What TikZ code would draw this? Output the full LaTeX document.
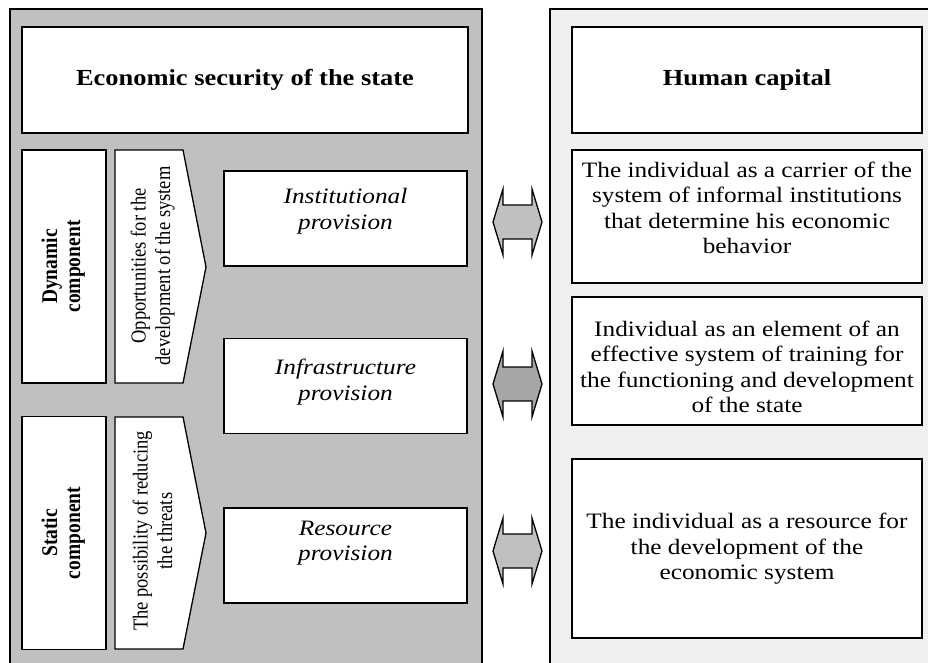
\documentclass[tikz,border=0pt]{standalone}
\usepackage{fontspec}
\usepackage{graphicx}
\setmainfont[FakeStretch=1.15]{Liberation Serif}
\newfontfamily\upfont{Liberation Serif}

\definecolor{panelgray}{HTML}{C0C0C0}
\definecolor{panellight}{HTML}{F0F0F0}
\definecolor{arrowdark}{HTML}{A6A6A6}

\newcommand{\textsize}{\fontsize{22}{25.5}\selectfont}
\newcommand{\tallrot}[1]{\scalebox{1}[1.15]{\begin{tabular}{@{}c@{}}#1\end{tabular}}}
\newcommand{\linkarrow}[2]{%
  \draw[twoway, fill=#2] (493,#1) -- (503,{#1-33}) -- (503,{#1-17}) -- (532,{#1-17})
    -- (532,{#1-33}) -- (542,#1) -- (532,{#1+33}) -- (532,{#1+17})
    -- (503,{#1+17}) -- (503,{#1+33}) -- cycle;}

\begin{document}
\begin{tikzpicture}[x=1pt, y=-1pt, font=\textsize,
    panel/.style={draw=black, line width=1.5pt},
    box/.style={draw=black, line width=1.3pt, fill=white, inner sep=0pt, align=center},
    headbox/.style={box, minimum height=106pt, font=\fontsize{23}{25}\selectfont\bfseries},
    sidebox/.style={box, minimum width=84pt, minimum height=233pt},
    midbox/.style={box, minimum width=243pt, minimum height=95pt},
    rightbox/.style={box, minimum width=350pt},
    twoway/.style={draw=black, line width=1.3pt, line join=miter},
    rottext/.style={rotate=90, inner sep=0pt, font=\upfont\fontsize{18.5}{21.3}\selectfont},
    rotbold/.style={rottext, font=\upfont\fontsize{19.5}{20}\selectfont\bfseries}]
    \clip (0,0) rectangle (928,662);

    % Panels.
    \draw[panel, fill=panelgray]  (10,9)  rectangle (482,680);
    \draw[panel, fill=panellight] (550,9) rectangle (940,680);

    % Headings.
    \node[headbox, minimum width=446pt] (ecsec) at (245,80) {Economic security of the state};
    \node[headbox, minimum width=350pt] (humcap) at (747,80) {Human capital};

    % Components.
    \node[sidebox] (dyn) at (64,266.5) {};
    \node[sidebox] (stat) at (64,533) {};
    \node[rotbold] (dynlbl) at (dyn.center) {\tallrot{Dynamic\\component}};
    \node[rotbold] (statlbl) at (stat.center) {\tallrot{Static\\component}};

    % Chevrons.
    \draw[box] (115,150) -- (183,150) -- (206,267) -- (183,383) -- (115,383) -- cycle;
    \draw[box] (115,417) -- (183,417) -- (206,533) -- (183,649) -- (115,649) -- cycle;
    \node[rottext] (opport) at (153,266) {\tallrot{Opportunities for the\\development of the system}};
    \node[rottext] (reduce) at (155,531) {\tallrot{The possibility of reducing\\the threats}};

    % Provisions.
    \node[midbox] (inst)  at (345.5,218.5) {};
    \node[midbox] (infra) at (345.5,386) {};
    \node[midbox] (res)   at (345.5,555.5) {};
    \node[align=center, font=\textsize\itshape] (instlbl)  at (345.5,211) {Institutional\\provision};
    \node[align=center, font=\textsize\itshape] (infralbl) at (345.5,382) {Infrastructure\\provision};
    \node[align=center, font=\textsize\itshape] (reslbl)   at (345.5,543) {Resource\\provision};

    % Human capital roles.
    \node[rightbox, minimum height=133pt] (carrier) at (747,216.5) {};
    \node[rightbox, minimum height=128pt] (element) at (747,361) {};
    \node[rightbox, minimum height=179pt] (resource) at (747,548.5) {};
    \node[align=center] (carrierlbl) at (747,208) {The individual as a carrier of the\\system of informal institutions\\that determine his economic\\behavior};
    \node[align=center] (elementlbl) at (747,367) {Individual as an element of an\\effective system of training for\\the functioning and development\\of the state};
    \node[align=center] (resourcelbl) at (747,549) {The individual as a resource for\\the development of the\\economic system};

    % Links.
    \linkarrow{222}{panelgray}
    \linkarrow{384}{arrowdark}
    \linkarrow{551}{panelgray}
\end{tikzpicture}
\end{document}
